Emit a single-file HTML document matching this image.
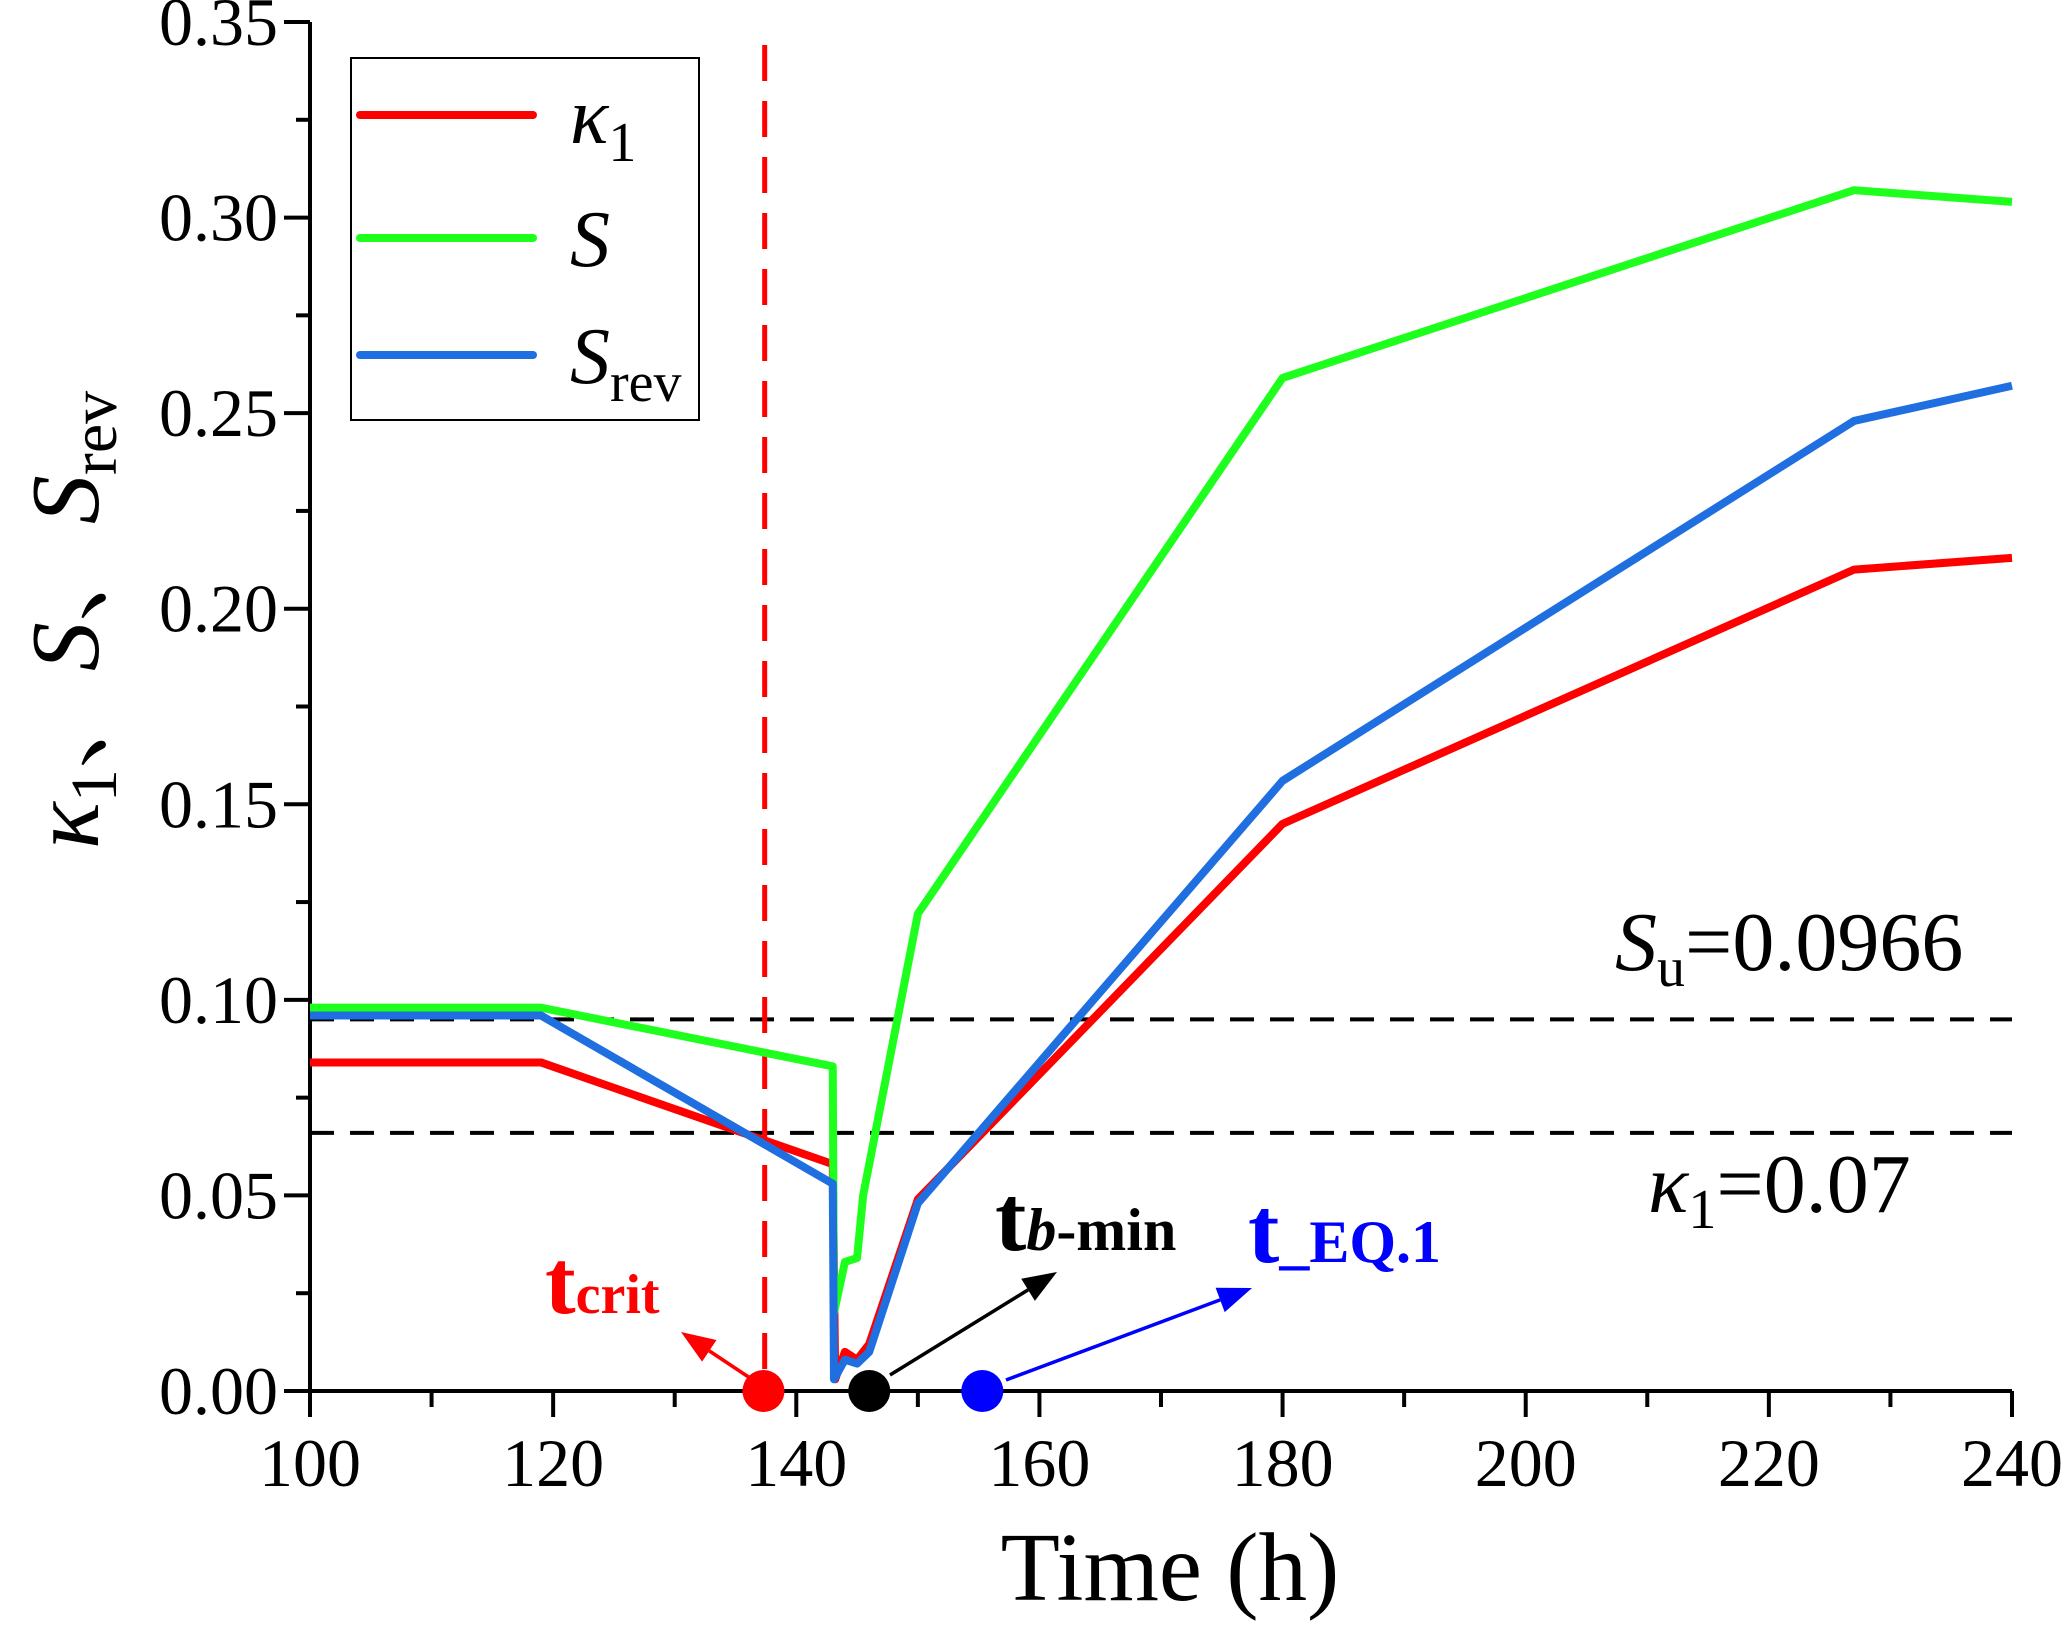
<!DOCTYPE html>
<html><head><meta charset="utf-8"><style>
html,body{margin:0;padding:0;background:#fff}
svg{display:block;font-family:"Liberation Serif","Noto Serif CJK SC",serif}
</style></head><body>
<svg id="chart" width="2067" height="1626" viewBox="0 0 2067 1626" xmlns="http://www.w3.org/2000/svg">
<g id="plot"></g>
</svg>
<script>
const xTicks=[100,120,140,160,180,200,220,240];
const yTicks=[0,0.05,0.10,0.15,0.20,0.25,0.30,0.35];
const yTickLabels=["0.00","0.05","0.10","0.15","0.20","0.25","0.30","0.35"];
const tK1=[100,119,143,143.2,144,145,146,150,180,227,240];
const vK1=[0.084,0.084,0.058,0.003,0.010,0.008,0.012,0.049,0.145,0.210,0.213];
const tS=[100,119,143,143.1,144,145,145.5,150,180,227,240];
const vS=[0.098,0.098,0.083,0.020,0.033,0.034,0.050,0.122,0.259,0.307,0.304];
const tSrev=[100,119,143,143.1,144,145,146,150,180,227,240];
const vSrev=[0.096,0.096,0.053,0.003,0.008,0.007,0.010,0.048,0.156,0.248,0.257];
const refLines=[0.095,0.066];
const tCrit=137.4;
const markerTimes=[137.3,146,155.3];

const X0=310,X1=2012,Y0=1391,Y1=22;
const xs=t=>X0+(t-100)/140*(X1-X0);
const ys=v=>Y0-v/0.35*(Y0-Y1);
const NS="http://www.w3.org/2000/svg";
const g=document.getElementById('plot');
function mk(tag,attrs,parent){const e=document.createElementNS(NS,tag);for(const k in attrs)e.setAttribute(k,attrs[k]);(parent||g).appendChild(e);return e;}

let e=mk('line',{x1:X0,y1:Y0,x2:X1,y2:Y0,stroke:'#000','stroke-width':4});


e=mk('line',{x1:X0,y1:Y0+2,x2:X0,y2:Y1,stroke:'#000','stroke-width':4});


for(let t=100;t<=240;t+=10){
  const maj=(t%20===0);
  e=mk('line',{x1:xs(t),y1:Y0,x2:xs(t),y2:Y0+(maj?26:16),stroke:'#000','stroke-width':4});
  
  
}
xTicks.forEach(t=>{
  e=mk('text',{x:xs(t),y:Y0+95,'font-size':68,'text-anchor':'middle'});e.textContent=t;
  
  
});
for(let i=0;i<=14;i++){
  const v=i*0.025,maj=(i%2===0);
  e=mk('line',{x1:X0,y1:ys(v),x2:X0-(maj?26:14),y2:ys(v),stroke:'#000','stroke-width':4});
  
  
}
yTicks.forEach((v,i)=>{
  e=mk('text',{x:X0-32,y:ys(v)+23,'font-size':68,'text-anchor':'end'});e.textContent=yTickLabels[i];
  
  
});
e=mk('text',{x:1170,y:1600,'font-size':97,'text-anchor':'middle'});e.textContent='Time (h)';


e=mk('text',{transform:'translate(98,620) rotate(-90)','font-size':98,'text-anchor':'middle'});
e.innerHTML='<tspan font-style="italic">κ</tspan><tspan font-size="66" dy="18">1</tspan><tspan dy="-18">、</tspan><tspan font-style="italic">S</tspan>、<tspan font-style="italic">S</tspan><tspan font-size="66" dy="18">rev</tspan>';



refLines.forEach(v=>{
  e=mk('line',{x1:X0,y1:ys(v),x2:X1,y2:ys(v),stroke:'#000','stroke-width':4,'stroke-dasharray':'24 16'});
  
  
});
e=mk('line',{x1:xs(tCrit),y1:45,x2:xs(tCrit),y2:Y0,stroke:'#f00','stroke-width':5,'stroke-dasharray':'36 20'});



function series(t,v,color,name){
  const p=mk('polyline',{points:t.map((x,i)=>xs(x)+','+ys(v[i])).join(' '),fill:'none',stroke:color,'stroke-width':8,'stroke-linejoin':'round'});
  
  
}
series(tK1,vK1,'#f00','series-kappa1');
series(tS,vS,'#1eff1e','series-s');
series(tSrev,vSrev,'#1f6fe0','series-srev');

const mcol=['#f00','#000','#00f'];
const mnames=['t-crit-marker','t-b-min-marker','t-eq1-marker'];
markerTimes.forEach((t,i)=>{
  e=mk('ellipse',{cx:xs(t),cy:Y0,rx:21,ry:21,fill:mcol[i]});
  
  
});
function arrow(x1,y1,x2,y2,c,name){
  const a=mk('g',{});
  
  
  const ang=Math.atan2(y2-y1,x2-x1),L=34,W=13;
  const bx=x2-L*Math.cos(ang),by=y2-L*Math.sin(ang);
  mk('line',{x1:x1,y1:y1,x2:bx,y2:by,stroke:c,'stroke-width':3.5},a);
  mk('polygon',{points:`${x2},${y2} ${bx-W*Math.sin(ang)},${by+W*Math.cos(ang)} ${bx+W*Math.sin(ang)},${by-W*Math.cos(ang)}`,fill:c},a);
}
arrow(750,1378,681,1332,'#f00','t-crit-arrow');
arrow(890,1375,1057,1272,'#000','t-b-min-arrow');
arrow(1006,1380,1252,1288,'#00f','t-eq1-arrow');

e=mk('text',{x:545,y:1313,'font-size':92,'font-weight':'bold',fill:'#f00'});
e.innerHTML='t<tspan font-size="56">crit</tspan>';


e=mk('text',{x:995,y:1250,'font-size':94,'font-weight':'bold',fill:'#000'});
e.innerHTML='t<tspan font-size="60" font-style="italic">b</tspan><tspan font-size="60">-min</tspan>';


e=mk('text',{x:1248,y:1262,'font-size':94,'font-weight':'bold',fill:'#00f'});
e.innerHTML='t<tspan font-size="60">_EQ.1</tspan>';


e=mk('text',{x:1615,y:970,'font-size':84});
e.innerHTML='<tspan font-style="italic">S</tspan><tspan font-size="56" dy="16">u</tspan><tspan dy="-16">=0.0966</tspan>';


e=mk('text',{x:1648,y:1212,'font-size':84});
e.innerHTML='<tspan font-style="italic">κ</tspan><tspan font-size="56" dy="16">1</tspan><tspan dy="-16">=0.07</tspan>';



const lg=mk('g',{});


mk('rect',{x:351,y:58,width:348,height:362,fill:'#fff',stroke:'#000','stroke-width':2},lg);
const legCols=['#f00','#1eff1e','#1f6fe0'];
const legY=[115,238,355];
const legTxt=['<tspan font-style="italic">κ</tspan><tspan font-size="56" dy="18">1</tspan>','<tspan font-style="italic">S</tspan>','<tspan font-style="italic">S</tspan><tspan font-size="56" dy="18">rev</tspan>'];
const legNames=['legend-entry-kappa1','legend-entry-s','legend-entry-srev'];
legY.forEach((y,i)=>{
  const it=mk('g',{},lg);
  
  
  mk('line',{x1:360,y1:y,x2:533,y2:y,stroke:legCols[i],'stroke-width':8,'stroke-linecap':'round'},it);
  const t=mk('text',{x:570,y:y+28,'font-size':80},it);t.innerHTML=legTxt[i];
});
</script>
</body></html>
